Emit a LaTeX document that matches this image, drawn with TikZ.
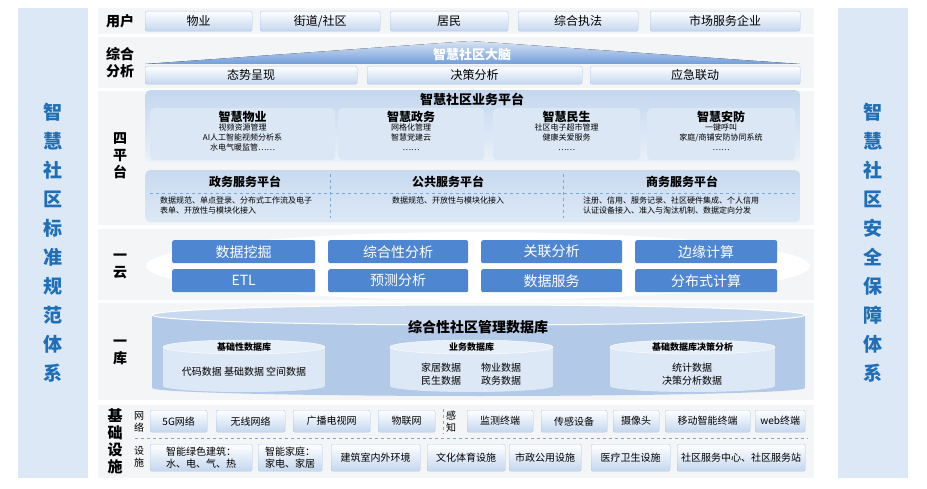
\documentclass[tikz,border=0pt]{standalone}
\usepackage{fontspec}
\setmainfont{Noto Sans CJK SC}
\usetikzlibrary{shapes.geometric}
\definecolor{panel}{HTML}{DCE8F5}
\definecolor{btxt}{HTML}{1F6FB8}
\definecolor{bfill}{HTML}{C4D7EF}
\definecolor{bdr}{HTML}{AFC8E8}
\definecolor{rowbg}{HTML}{F4F5F7}
\definecolor{dark}{HTML}{4F86D2}
\definecolor{cyl}{HTML}{B3C9E8}
\definecolor{cyltop}{HTML}{C9DAF0}
\definecolor{inner}{HTML}{DDE8F6}
\newcommand{\fs}[1]{\fontsize{#1}{#1}\selectfont}
\newcommand{\fsl}[2]{\fontsize{#1}{#2}\selectfont}
\tikzset{
 x=1pt,y=-1pt,
 ubox/.style={rounded corners=2pt,top color=white,bottom color=bfill,draw=bdr,inner sep=0pt,font=\fs{10}},
 dbox/.style={rounded corners=2pt,fill=dark,draw=none,text=white,font=\fs{14}},
 rlabel/.style={font=\fsl{14}{17}\bfseries,align=center,inner sep=0pt},
 small/.style={font=\fsl{8}{10},align=center,inner sep=0pt},
 sub/.style={rounded corners=4pt,fill=white!40!bfill,draw=none},
 side/.style={text=btxt,font=\fsl{19}{29}\bfseries,align=center},
}
\begin{document}
\begin{tikzpicture}
\useasboundingbox (0,0) rectangle (927,489);
\fill[white] (0,0) rectangle (927,489);
% side panels
\fill[panel] (18,8) rectangle (88,478);
\fill[panel] (838,8) rectangle (908,478);
\node[side] (ls) at (53,243) {智\\慧\\社\\区\\标\\准\\规\\范\\体\\系};
\node[side] (rs) at (873,243) {智\\慧\\社\\区\\安\\全\\保\\障\\体\\系};
% row backgrounds
\foreach \a/\b in {8/34,37/88,91/225,229/300,303/400,405/478}{\fill[rowbg] (98,\a) rectangle (814,\b);}
% users
\node[rlabel] (u) at (120,21) {用户};
\foreach \n/\a/\b/\t in {u1/145/252/物业,u2/260/380/{街道/社区},u3/390/508/居民,u4/518/638/综合执法,u5/650/800/市场服务企业}
 {\node[ubox,minimum width=\b-\a,minimum height=20,anchor=north west,font=\fs{12}] (\n) at (\a,11) {\t};}
% analysis
\node[rlabel] (za) at (120,63) {综合\\分析};
\fill[top color=bfill!70,bottom color=dark!80] (145,64) -- (470,41) -- (800,64) -- cycle;
\node[text=white,font=\fs{13}\bfseries] (brain) at (472,55) {智慧社区大脑};
\foreach \n/\a/\b/\t in {a1/145/357/态势呈现,a2/367/582/决策分析,a3/590/800/应急联动}
 {\node[ubox,minimum width=\b-\a,minimum height=18,anchor=north west,font=\fs{12}] (\n) at (\a,66) {\t};}
% four platforms
\node[rlabel] (sp) at (120,156) {四\\平\\台};
\node[rounded corners=5pt,top color=bfill,bottom color=panel!60,minimum width=655,minimum height=72,anchor=north west] (bp) at (145,90) {};
\node[font=\fs{13}\bfseries] (bpt) at (472,99) {智慧社区业务平台};
\foreach \n/\a/\b/\t/\s in {p1/150/335/智慧物业/{视频资源管理\\AI人工智能视频分析系\\水电气暖监管……},p2/338/484/智慧政务/{网格化管理\\智慧党建云\\……},p3/493/640/智慧民生/{社区电子超市管理\\健康关爱服务\\……},p4/647/795/智慧安防/{一键呼叫\\家庭/商铺安防协同系统\\……}}
 {\node[sub,minimum width=\b-\a,minimum height=52,anchor=north west] (\n) at (\a,108) {};
  \node[font=\fs{12}\bfseries,inner sep=0pt] (\n t) at ({(\a+\b)/2},117) {\t};
  \node[small,anchor=north] (\n s) at ({(\a+\b)/2},124) {\s};}
\node[rounded corners=5pt,top color=cyltop,bottom color=panel,minimum width=655,minimum height=52,anchor=north west] (lp) at (145,170) {};
\draw[dashed,btxt!60] (150,193) -- (795,193);
\draw[dashed,btxt!60] (330,174) -- (330,218);
\draw[dashed,btxt!60] (563,174) -- (563,218);
\node[font=\fs{12}\bfseries] (q1) at (245,182) {政务服务平台};
\node[font=\fs{12}\bfseries] (q2) at (448,182) {公共服务平台};
\node[font=\fs{12}\bfseries] (q3) at (682,182) {商务服务平台};
\node[small,align=left,anchor=north west] (q1s) at (160,197) {数据规范、单点登录、分布式工作流及电子\\表单、开放性与模块化接入};
\node[small,anchor=north] (q2s) at (448,197) {数据规范、开放性与模块化接入};
\node[small,align=left,anchor=north west] (q3s) at (583,197) {注册、信用、服务记录、社区硬件集成、个人信用\\认证设备接入、准入与淘汰机制、数据定向分发};
% cloud
\node[rlabel] (yy) at (120,266) {一\\云};
\fill[white] (478,266) ellipse (332 and 34);
\foreach \n/\a/\b/\t/\u in {c1/172/315/数据挖掘/ETL,c2/328/468/综合性分析/预测分析,c3/481/622/关联分析/数据服务,c4/635/777/边缘计算/分布式计算}
 {\node[dbox,minimum width=\b-\a,minimum height=23,anchor=north west] (\n a) at (\a,240) {\t};
  \node[dbox,minimum width=\b-\a,minimum height=23,anchor=north west] (\n b) at (\a,269) {\u};}
% database
\node[rlabel] (yk) at (120,352) {一\\库};
\fill[cyl] (152,315) rectangle (805,388);
\fill[cyl] (478.5,388) ellipse (326.5 and 8);
\fill[cyltop,draw=white,line width=1pt] (478.5,315) ellipse (326.5 and 10);
\node[font=\fs{14}\bfseries] (db) at (478,327) {综合性社区管理数据库};
\foreach \n/\a/\b/\t in {d1/163/325/基础性数据库,d2/390/553/业务数据库,d3/610/775/基础数据库决策分析}
 {\fill[inner] (\a,347) rectangle (\b,386);
  \fill[inner] ({(\a+\b)/2},386) ellipse ({(\b-\a)/2} and 6);
  \fill[inner!70!white,draw=white] ({(\a+\b)/2},347) ellipse ({(\b-\a)/2} and 7);
  \node[font=\fs{9}\bfseries] (\n) at ({(\a+\b)/2},347) {\t};}
\node[font=\fs{10}] (d1s) at (244,372) {代码数据\ 基础数据\ 空间数据};
\node[font=\fsl{10}{13},align=center] (d2s) at (471,374) {家居数据\qquad 物业数据\\民生数据\qquad 政务数据};
\node[font=\fsl{10}{13},align=center] (d3s) at (692,374) {统计数据\\决策分析数据};
% infrastructure
\node[rlabel,font=\fsl{15}{17}\bfseries] (jc) at (115,441) {基\\础\\设\\施};
\node[font=\fsl{10}{12},align=center,inner sep=0pt] (wl) at (139,422) {网\\络};
\node[font=\fsl{10}{12},align=center,inner sep=0pt] (ss) at (139,457) {设\\施};
\node[font=\fsl{10}{12},align=center,inner sep=0pt] (gz) at (451,422) {感\\知};
\draw[dashed,btxt!60] (443,409) -- (443,434);
\draw[dashed,btxt!60,thick] (135,438) -- (808,438);
\foreach \n/\a/\b/\t in {n1/150/207/5G网络,n2/216/285/无线网络,n3/293/370/广播电视网,n4/378/435/物联网,n5/467/533/监测终端,n6/541/607/传感设备,n7/613/659/摄像头,n8/665/750/移动智能终端,n9/755/805/web终端}
 {\node[ubox,font=\fs{10},minimum width=\b-\a,minimum height=22,anchor=north west] (\n) at (\a,410) {\t};}
\foreach \n/\a/\b/\t in {f1/150/252/{智能绿色建筑：\\水、电、气、热},f2/258/322/{智能家庭：\\家电、家居},f3/331/420/建筑室内外环境,f4/427/505/文化体育设施,f5/509/581/市政公用设施,f6/591/670/医疗卫生设施,f7/677/805/社区服务中心、社区服务站}
 {\node[ubox,font=\fsl{10}{12},align=center,minimum width=\b-\a,minimum height=27,anchor=north west] (\n) at (\a,444) {\t};}
\end{tikzpicture}
\end{document}
